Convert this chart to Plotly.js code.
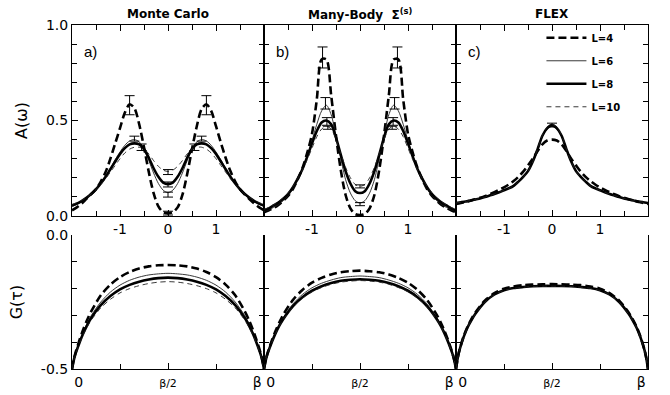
<!DOCTYPE html>
<html><head><meta charset="utf-8">
<script src="https://cdn.plot.ly/plotly-3.0.1.min.js"></script>
<style>html,body{margin:0;padding:0;background:#fff}#chart{width:670px;height:395px}</style>
</head><body><div id="chart"></div>
<script>
// ---------- data ----------
const omega = [-2.0,-1.9,-1.8,-1.7,-1.6,-1.5,-1.4,-1.3,-1.2,-1.1,-1.0,-0.9,-0.8,-0.7,-0.6,-0.5,-0.4,-0.3,-0.2,-0.1,0.0,0.1,0.2,0.3,0.4,0.5,0.6,0.7,0.8,0.9,1.0,1.1,1.2,1.3,1.4,1.5,1.6,1.7,1.8,1.9,2.0];

const mcA4  = [0.03,0.045,0.065,0.09,0.115,0.14,0.18,0.23,0.30,0.38,0.46,0.54,0.585,0.565,0.48,0.36,0.23,0.12,0.05,0.02,0.015,0.02,0.045,0.11,0.22,0.35,0.47,0.56,0.585,0.55,0.47,0.385,0.305,0.235,0.18,0.14,0.112,0.088,0.065,0.045,0.03];
const mcA6  = [0.05,0.06,0.073,0.09,0.112,0.138,0.17,0.207,0.25,0.295,0.335,0.37,0.393,0.40,0.388,0.35,0.29,0.225,0.17,0.135,0.122,0.135,0.17,0.225,0.29,0.35,0.388,0.40,0.393,0.37,0.335,0.295,0.25,0.207,0.17,0.138,0.112,0.09,0.073,0.06,0.05];
const mcA8  = [0.055,0.065,0.078,0.095,0.115,0.14,0.17,0.205,0.245,0.285,0.325,0.355,0.375,0.38,0.375,0.35,0.305,0.25,0.205,0.175,0.167,0.175,0.205,0.25,0.305,0.35,0.375,0.38,0.375,0.355,0.325,0.285,0.245,0.205,0.17,0.14,0.115,0.095,0.078,0.065,0.055];
const mcA10 = [0.06,0.07,0.082,0.097,0.115,0.138,0.165,0.195,0.23,0.265,0.30,0.33,0.35,0.36,0.36,0.35,0.325,0.29,0.26,0.24,0.233,0.24,0.26,0.29,0.325,0.35,0.36,0.36,0.35,0.33,0.30,0.265,0.23,0.195,0.165,0.138,0.115,0.097,0.082,0.07,0.06];

const mbA4  = [0.02,0.03,0.042,0.058,0.08,0.105,0.14,0.19,0.25,0.33,0.43,0.61,0.82,0.82,0.63,0.42,0.24,0.11,0.04,0.01,0.005,0.01,0.04,0.11,0.24,0.42,0.63,0.82,0.82,0.61,0.43,0.33,0.25,0.19,0.14,0.105,0.08,0.058,0.042,0.03,0.02];
const mbA6  = [0.025,0.033,0.045,0.06,0.08,0.105,0.14,0.185,0.245,0.315,0.395,0.48,0.55,0.58,0.53,0.42,0.30,0.19,0.12,0.08,0.068,0.08,0.12,0.19,0.30,0.42,0.53,0.58,0.55,0.48,0.395,0.315,0.245,0.185,0.14,0.105,0.08,0.06,0.045,0.033,0.025];
const mbA8  = [0.03,0.04,0.055,0.07,0.09,0.115,0.15,0.195,0.245,0.31,0.38,0.445,0.49,0.50,0.48,0.41,0.32,0.235,0.17,0.13,0.12,0.13,0.17,0.235,0.32,0.41,0.48,0.50,0.49,0.445,0.38,0.31,0.245,0.195,0.15,0.115,0.09,0.07,0.055,0.04,0.03];
const mbA10 = [0.035,0.045,0.058,0.075,0.095,0.12,0.155,0.195,0.24,0.295,0.355,0.415,0.455,0.47,0.455,0.40,0.325,0.255,0.20,0.165,0.155,0.165,0.20,0.255,0.325,0.40,0.455,0.47,0.455,0.415,0.355,0.295,0.24,0.195,0.155,0.12,0.095,0.075,0.058,0.045,0.035];

const flA4  = [0.063,0.068,0.074,0.08,0.087,0.095,0.104,0.114,0.125,0.137,0.15,0.165,0.183,0.205,0.232,0.265,0.30,0.34,0.375,0.395,0.40,0.395,0.375,0.34,0.30,0.265,0.232,0.205,0.183,0.165,0.15,0.137,0.125,0.114,0.104,0.095,0.087,0.08,0.074,0.068,0.063];
const flA6  = [0.067,0.071,0.076,0.081,0.086,0.092,0.099,0.107,0.115,0.124,0.135,0.146,0.159,0.18,0.205,0.236,0.285,0.348,0.415,0.455,0.47,0.455,0.415,0.348,0.285,0.236,0.205,0.18,0.159,0.146,0.135,0.124,0.115,0.107,0.099,0.092,0.086,0.081,0.076,0.071,0.067];
const flA8  = [0.068,0.072,0.076,0.081,0.086,0.092,0.099,0.107,0.115,0.124,0.135,0.145,0.158,0.18,0.205,0.235,0.285,0.35,0.42,0.46,0.476,0.46,0.42,0.35,0.285,0.235,0.205,0.18,0.158,0.145,0.135,0.124,0.115,0.107,0.099,0.092,0.086,0.081,0.076,0.072,0.068];
const flA10 = [0.068,0.072,0.076,0.081,0.086,0.092,0.099,0.107,0.115,0.124,0.134,0.145,0.157,0.178,0.203,0.234,0.284,0.35,0.423,0.465,0.48,0.465,0.423,0.35,0.284,0.234,0.203,0.178,0.157,0.145,0.134,0.124,0.115,0.107,0.099,0.092,0.086,0.081,0.076,0.072,0.068];

// imaginary time in units of beta
const tauFrac = [0,0.01,0.02,0.04,0.06,0.08,0.1,0.15,0.2,0.25,0.3,0.35,0.4,0.45,0.5,0.55,0.6,0.65,0.7,0.75,0.8,0.85,0.9,0.92,0.94,0.96,0.98,0.99,1];

const mcG4  = [-0.5,-0.462,-0.435,-0.39,-0.35,-0.315,-0.285,-0.225,-0.185,-0.157,-0.138,-0.125,-0.117,-0.113,-0.112,-0.113,-0.117,-0.125,-0.138,-0.157,-0.185,-0.225,-0.285,-0.315,-0.35,-0.39,-0.435,-0.462,-0.5];
const mcG6  = [-0.5,-0.464,-0.438,-0.397,-0.36,-0.328,-0.301,-0.25,-0.213,-0.187,-0.169,-0.157,-0.149,-0.145,-0.143,-0.145,-0.149,-0.157,-0.169,-0.187,-0.213,-0.25,-0.301,-0.328,-0.36,-0.397,-0.438,-0.464,-0.5];
const mcG8  = [-0.5,-0.465,-0.44,-0.40,-0.365,-0.335,-0.31,-0.262,-0.228,-0.203,-0.186,-0.174,-0.166,-0.161,-0.159,-0.161,-0.166,-0.174,-0.186,-0.203,-0.228,-0.262,-0.31,-0.335,-0.365,-0.40,-0.44,-0.465,-0.5];
const mcG10 = [-0.5,-0.466,-0.442,-0.403,-0.37,-0.342,-0.318,-0.272,-0.24,-0.216,-0.2,-0.189,-0.181,-0.176,-0.174,-0.176,-0.181,-0.189,-0.2,-0.216,-0.24,-0.272,-0.318,-0.342,-0.37,-0.403,-0.442,-0.466,-0.5];

const mbG4  = [-0.5,-0.463,-0.437,-0.395,-0.358,-0.326,-0.298,-0.243,-0.205,-0.178,-0.16,-0.147,-0.139,-0.135,-0.133,-0.135,-0.139,-0.147,-0.16,-0.178,-0.205,-0.243,-0.298,-0.326,-0.358,-0.395,-0.437,-0.463,-0.5];
const mbG6  = [-0.5,-0.464,-0.439,-0.399,-0.363,-0.333,-0.308,-0.258,-0.222,-0.197,-0.18,-0.168,-0.159,-0.155,-0.153,-0.155,-0.159,-0.168,-0.18,-0.197,-0.222,-0.258,-0.308,-0.333,-0.363,-0.399,-0.439,-0.464,-0.5];
const mbG8  = [-0.5,-0.465,-0.44,-0.401,-0.367,-0.338,-0.314,-0.266,-0.232,-0.208,-0.191,-0.179,-0.171,-0.167,-0.165,-0.167,-0.171,-0.179,-0.191,-0.208,-0.232,-0.266,-0.314,-0.338,-0.367,-0.401,-0.44,-0.465,-0.5];
const mbG10 = [-0.5,-0.465,-0.441,-0.402,-0.368,-0.34,-0.316,-0.27,-0.236,-0.212,-0.196,-0.184,-0.176,-0.172,-0.17,-0.172,-0.176,-0.184,-0.196,-0.212,-0.236,-0.27,-0.316,-0.34,-0.368,-0.402,-0.441,-0.465,-0.5];

const flG4  = [-0.5,-0.455,-0.424,-0.378,-0.342,-0.314,-0.29,-0.245,-0.217,-0.2,-0.192,-0.187,-0.185,-0.184,-0.183,-0.184,-0.185,-0.187,-0.192,-0.2,-0.217,-0.245,-0.29,-0.314,-0.342,-0.378,-0.424,-0.455,-0.5];
const flG6  = [-0.5,-0.455,-0.425,-0.38,-0.345,-0.318,-0.295,-0.25,-0.222,-0.206,-0.197,-0.193,-0.19,-0.189,-0.189,-0.189,-0.19,-0.193,-0.197,-0.206,-0.222,-0.25,-0.295,-0.318,-0.345,-0.38,-0.425,-0.455,-0.5];
const flG8  = [-0.5,-0.455,-0.425,-0.38,-0.345,-0.318,-0.295,-0.25,-0.222,-0.206,-0.198,-0.194,-0.191,-0.19,-0.19,-0.19,-0.191,-0.194,-0.198,-0.206,-0.222,-0.25,-0.295,-0.318,-0.345,-0.38,-0.425,-0.455,-0.5];
const flG10 = [-0.5,-0.456,-0.426,-0.381,-0.346,-0.319,-0.296,-0.251,-0.223,-0.207,-0.199,-0.195,-0.192,-0.191,-0.191,-0.191,-0.192,-0.195,-0.199,-0.207,-0.223,-0.251,-0.296,-0.319,-0.346,-0.381,-0.426,-0.456,-0.5];

// error bars (position, value, half-size)
const mcErrX4 = [-0.8,0,0.8],  mcErrY4 = [0.58,0.015,0.58],   mcErrV4 = [0.05,0.01,0.05];
const mcErrX6 = [-0.7,0,0.7],  mcErrY6 = [0.405,0.112,0.405], mcErrV6 = [0.013,0.013,0.013];
const mcErrX8 = [-0.55,0,0.55],mcErrY8 = [0.36,0.165,0.36],   mcErrV8 = [0.017,0.013,0.017];
const mcErrX10 = [0],          mcErrY10 = [0.23],             mcErrV10 = [0.013];
const mbErrX4 = [-0.78,0.78],  mbErrY4 = [0.83,0.83],         mbErrV4 = [0.055,0.055];
const mbErrX6 = [-0.72,0,0.72],mbErrY6 = [0.59,0.062,0.59],   mbErrV6 = [0.03,0.008,0.03];
const mbErrX8 = [-0.69,0.69],  mbErrY8 = [0.495,0.495],       mbErrV8 = [0.02,0.02];
const mbErrX10 = [-0.67,0,0.67],mbErrY10 = [0.462,0.155,0.462],mbErrV10 = [0.008,0.008,0.008];
const flErrX8 = [0],           flErrY8 = [0.476],             flErrV8 = [0.01];

const seriesNames = ['L=4','L=6','L=8','L=10'];
const panelTitles = ['Monte Carlo','Many-Body  Σ<sup>(s)</sup>','FLEX'];
const panelLabels = ['a)','b)','c)'];
const omegaTickVals = [-1,0,1], omegaTickText = ['-1','0','1'];
const omegaMinor = [-1.5,-0.5,0.5,1.5];
const aTickVals = [0,0.5,1], aTickText = ['0.0','0.5','1.0'];
const aMinor = [0.1,0.2,0.3,0.4,0.6,0.7,0.8,0.9];
const tauTickVals = [0,0.5,1];
const tauTickText = ['\u00a0\u00a0\u00a00','<span style="font-size:11px">β/2</span>','β\u00a0\u00a0\u00a0'];
const tauMinor = [0.25,0.75];
const gTickVals = [-0.5,0], gTickText = ['-0.5','0.0'];
const gMinor = [-0.4,-0.3,-0.2,-0.1];

// ---------- styles ----------
const lineStyles = [
  {color:'#000', width:2.6, dash:'8px,4px'},
  {color:'#222', width:0.9, dash:'solid'},
  {color:'#000', width:2.6, dash:'solid'},
  {color:'#222', width:0.9, dash:'5px,4px'}
];

const traces = [];
function addCurve(x, y, ax, i, showleg){
  traces.push({x:x, y:y, xaxis:'x'+ax, yaxis:'y'+ax, type:'scatter', mode:'lines',
    line:Object.assign({shape:'spline', smoothing:0.8}, lineStyles[i]),
    name:seriesNames[i], legendgroup:'g'+i, showlegend:showleg, hoverinfo:'skip'});
}
function addErr(x, y, e, ax){
  traces.push({x:x, y:y, xaxis:'x'+ax, yaxis:'y'+ax, type:'scatter', mode:'markers',
    marker:{size:1, color:'rgba(0,0,0,0)'}, showlegend:false, hoverinfo:'skip',
    error_y:{type:'data', array:e, visible:true, color:'#000', thickness:1, width:5}});
}
const topSets = [[mcA4,mcA6,mcA8,mcA10],[mbA4,mbA6,mbA8,mbA10],[flA4,flA6,flA8,flA10]];
const botSets = [[mcG4,mcG6,mcG8,mcG10],[mbG4,mbG6,mbG8,mbG10],[flG4,flG6,flG8,flG10]];
for (let p=0;p<3;p++){
  for (let i=0;i<4;i++){
    addCurve(omega, topSets[p][i], p===0?'':String(p+1), i, p===2);
    addCurve(tauFrac, botSets[p][i], String(p+4), i, false);
  }
}
addErr(mcErrX4, mcErrY4, mcErrV4, '');
addErr(mcErrX6, mcErrY6, mcErrV6, '');
addErr(mcErrX8, mcErrY8, mcErrV8, '');
addErr(mcErrX10, mcErrY10, mcErrV10, '');
addErr(mbErrX4, mbErrY4, mbErrV4, '2');
addErr(mbErrX6, mbErrY6, mbErrV6, '2');
addErr(mbErrX8, mbErrY8, mbErrV8, '2');
addErr(mbErrX10, mbErrY10, mbErrV10, '2');
addErr(flErrX8, flErrY8, flErrV8, '3');

// ---------- layout ----------
const tickFont = {family:'DejaVu Sans, sans-serif', size:14, color:'#000'};
const xDom = [[0,1/3],[1/3,2/3],[2/3,1]];
const topDom = [0.4448,1], botDom = [0,0.3895];
const layout = {
  width:670, height:395, margin:{l:72, r:22, t:25, b:26},
  paper_bgcolor:'#fff', plot_bgcolor:'#fff', showlegend:true,
  legend:{x:0.815, xanchor:'left', y:1.005, yanchor:'top', bgcolor:'rgba(0,0,0,0)',
    font:{family:'DejaVu Sans, sans-serif', size:10, color:'#000', weight:'bold'},
    traceorder:'grouped', tracegroupgap:4, itemwidth:40},
  annotations:[], font:{family:'DejaVu Sans, sans-serif', color:'#000'}
};
function axCommon(){ return {showline:true, linecolor:'#000', linewidth:1, showgrid:false, zeroline:false,
  ticks:'inside', ticklen:6, tickcolor:'#000', tickwidth:1, tickfont:tickFont, fixedrange:true}; }
for (let p=0;p<3;p++){
  const s = p===0?'':String(p+1), sb = String(p+4);
  layout['xaxis'+s] = Object.assign(axCommon(), {domain:xDom[p], range:[-2,2], anchor:'y'+s, mirror:'ticks',
    tickmode:'array', tickvals:omegaTickVals, ticktext:omegaTickText,
    minor:{tickmode:'array', tickvals:omegaMinor, ticks:'inside', ticklen:5, tickcolor:'#000', tickwidth:1}});
  layout['yaxis'+s] = Object.assign(axCommon(), {domain:topDom, range:[0,1], anchor:'x'+s, mirror:'ticks',
    tickmode:'array', tickvals:aTickVals, ticktext:aTickText, showticklabels:p===0,
    minor:{tickmode:'array', tickvals:aMinor, ticks:'inside', ticklen:5, tickcolor:'#000', tickwidth:1}});
  layout['xaxis'+sb] = Object.assign(axCommon(), {domain:xDom[p], range:[0,1], anchor:'y'+sb, mirror:false,
    tickmode:'array', tickvals:tauTickVals, ticktext:tauTickText,
    minor:{tickmode:'array', tickvals:tauMinor, ticks:'inside', ticklen:5, tickcolor:'#000', tickwidth:1}});
  layout['yaxis'+sb] = Object.assign(axCommon(), {domain:botDom, range:[-0.5,0], anchor:'x'+sb, mirror:'ticks',
    tickmode:'array', tickvals:gTickVals, ticktext:gTickText, showticklabels:p===0,
    minor:{tickmode:'array', tickvals:gMinor, ticks:'inside', ticklen:5, tickcolor:'#000', tickwidth:1}});
  layout.annotations.push({text:panelTitles[p], xref:'paper', yref:'paper', x:(xDom[p][0]+xDom[p][1])/2, y:1.032,
    showarrow:false, xanchor:'center', yanchor:'middle', font:{family:'DejaVu Sans, sans-serif', size:12, weight:'bold', color:'#000'}});
  layout.annotations.push({text:panelLabels[p], xref:'x'+s+' domain', yref:'y'+s+' domain', x:0.095, y:0.86,
    showarrow:false, xanchor:'center', yanchor:'middle', font:{family:'Liberation Sans, Arial, sans-serif', size:15, color:'#000'}});
}
layout.yaxis.title = {text:'A(ω)', font:{family:'DejaVu Sans, sans-serif', size:16, color:'#000'}, standoff:14};
layout.yaxis4.title = {text:'G(τ)', font:{family:'DejaVu Sans, sans-serif', size:16, color:'#000'}, standoff:14};

Plotly.newPlot('chart', traces, layout, {displayModeBar:false, staticPlot:true});
</script></body></html>
